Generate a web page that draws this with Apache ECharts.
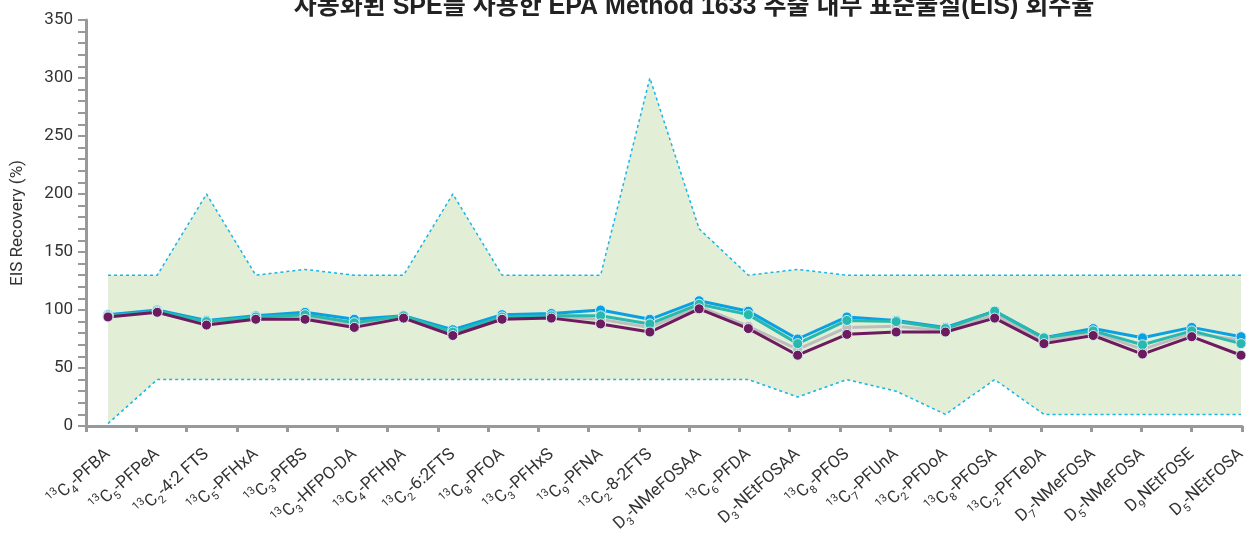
<!DOCTYPE html>
<html>
<head>
<meta charset="utf-8">
<script src="https://cdn.jsdelivr.net/npm/echarts@6/dist/echarts.min.js"></script>
<style>html,body{margin:0;padding:0;background:#fff}#c{width:1246px;height:533px}</style>
</head>
<body>
<div id="c"></div>
<script>
const titleText = '자동화된 SPE를 사용한 EPA Method 1633 추출 내부 표준물질(EIS) 회수율';
const categories = [
  '{sup|13}C{sub|4}-PFBA', '{sup|13}C{sub|5}-PFPeA', '{sup|13}C{sub|2}-4:2 FTS', '{sup|13}C{sub|5}-PFHxA',
  '{sup|13}C{sub|3}-PFBS', '{sup|13}C{sub|3}-HFPO-DA', '{sup|13}C{sub|4}-PFHpA', '{sup|13}C{sub|2}-6:2FTS',
  '{sup|13}C{sub|8}-PFOA', '{sup|13}C{sub|3}-PFHxS', '{sup|13}C{sub|9}-PFNA', '{sup|13}C{sub|2}-8-2FTS',
  'D{sub|3}-NMeFOSAA', '{sup|13}C{sub|6}-PFDA', 'D{sub|3}-NEtFOSAA', '{sup|13}C{sub|8}-PFOS',
  '{sup|13}C{sub|7}-PFUnA', '{sup|13}C{sub|2}-PFDoA', '{sup|13}C{sub|8}-PFOSA', '{sup|13}C{sub|2}-PFTeDA',
  'D{sub|7}-NMeFOSA', 'D{sub|5}-NMeFOSA', 'D{sub|9}NEtFOSE', 'D{sub|5}-NEtFOSA'
];
const lowerLimit = [2, 40, 40, 40, 40, 40, 40, 40, 40, 40, 40, 40, 40, 40, 25, 40, 30, 10, 40, 10, 10, 10, 10, 10];
const upperLimit = [130, 130, 200, 130, 135, 130, 130, 200, 130, 130, 130, 300, 170, 130, 135, 130, 130, 130, 130, 130, 130, 130, 130, 130];
const seriesBlue   = [96, 100, 91, 95, 98, 92, 95, 83, 96, 97, 100, 92, 108, 99, 75, 94, 91, 85, 99, 76, 84, 76, 85, 77];
const seriesTeal   = [95, 99, 90, 94, 96, 89, 95, 81, 94, 95, 95, 88, 105, 96, 71, 91, 90, 84, 99, 76, 82, 70, 82, 71];
const seriesGray   = [95, 99, 89, 93, 94, 87, 94, 80, 93, 94, 92, 85, 103, 86, 66, 85, 86, 82, 96, 73, 81, 66, 80, 74];
const seriesPurple = [94, 98, 87, 92, 92, 85, 93, 78, 92, 93, 88, 81, 101, 84, 61, 79, 81, 81, 93, 71, 78, 62, 77, 61];
const yTicks = { min: 0, max: 350, interval: 50 };
const bandLabel = 'EIS acceptance interval';

const bandWidth = upperLimit.map((u, i) => u - lowerLimit[i]);

function lineSeries(name, data, color) {
  return {
    name, type: 'line', xAxisIndex: 1, yAxisIndex: 1, data,
    symbol: 'circle', symbolSize: 10, showAllSymbol: true,
    lineStyle: { color, width: 3 },
    itemStyle: { color, borderColor: '#d8f0f4', borderWidth: 1 },
    z: 5
  };
}

const chart = echarts.init(document.getElementById('c'), null, { renderer: 'canvas' });
chart.setOption({
  animation: false,
  title: {
    text: titleText, left: 689, top: -10, textAlign: 'center',
    textStyle: { fontFamily: 'Liberation Sans, Arial, Noto Sans CJK KR', fontWeight: 'bold', fontSize: 25, color: '#222' }
  },
  grid: [
    { left: 86, right: 4, top: 20, bottom: 107, containLabel: false, outerBoundsMode: 'none' },
    { left: 108, right: 5, top: 20, bottom: 107, containLabel: false, outerBoundsMode: 'none' }
  ],
  xAxis: [
    {
      gridIndex: 0, type: 'value', min: 0, max: categories.length - 1, interval: 1,
      axisLine: { show: true, lineStyle: { color: '#999', width: 3 } },
      axisTick: { show: true, length: 6, lineStyle: { color: '#999', width: 3 } },
      axisLabel: { show: false }, splitLine: { show: false }
    },
    {
      gridIndex: 1, type: 'category', data: categories, boundaryGap: false,
      axisLine: { show: false }, axisTick: { show: false }, splitLine: { show: false },
      axisLabel: {
        interval: 0, rotate: 42, margin: 26, color: '#333', fontSize: 17, fontFamily: 'Roboto',
        rich: {
          sup: { fontSize: 11, color: '#333', fontFamily: 'Roboto', verticalAlign: 'top', lineHeight: 24 },
          sub: { fontSize: 11, color: '#333', fontFamily: 'Roboto', verticalAlign: 'bottom', lineHeight: 24 }
        }
      }
    }
  ],
  yAxis: [
    {
      gridIndex: 0, type: 'value', min: yTicks.min, max: yTicks.max, interval: yTicks.interval,
      name: 'EIS Recovery (%)', nameLocation: 'middle', nameGap: 60,
      nameTextStyle: { fontSize: 17, color: '#333', fontFamily: 'Roboto' },
      axisLine: { show: true, lineStyle: { color: '#999', width: 3 } },
      axisTick: { show: true, length: 8, lineStyle: { color: '#999', width: 2 } },
      minorTick: { show: true, splitNumber: 5, length: 8, lineStyle: { color: '#999', width: 2 } },
      axisLabel: { fontSize: 17, color: '#333', fontFamily: 'Roboto', margin: 13 },
      splitLine: { show: false }
    },
    {
      gridIndex: 1, type: 'value', min: yTicks.min, max: yTicks.max, interval: yTicks.interval, show: false
    }
  ],
  graphic: [{
    type: 'text', left: 155, top: 345,
    style: { text: bandLabel, fontSize: 16.5, fill: '#333', fontFamily: 'Roboto' }
  }],
  series: [
    {
      name: 'lower', type: 'line', xAxisIndex: 1, yAxisIndex: 1, data: lowerLimit, stack: 'band',
      symbol: 'none', lineStyle: { color: '#19b5e5', width: 1.5, type: [3, 3] }, z: 1
    },
    {
      name: 'upper', type: 'line', xAxisIndex: 1, yAxisIndex: 1, data: bandWidth, stack: 'band',
      symbol: 'none', lineStyle: { color: '#19b5e5', width: 1.5, type: [3, 3] },
      areaStyle: { color: '#e2eed5', opacity: 1 }, z: 1
    },
    lineSeries('gray', seriesGray, '#bdbdbd'),
    lineSeries('blue', seriesBlue, '#0aa0e2'),
    lineSeries('teal', seriesTeal, '#27b9ae'),
    lineSeries('purple', seriesPurple, '#6d1a5f')
  ]
});
</script>
</body>
</html>
